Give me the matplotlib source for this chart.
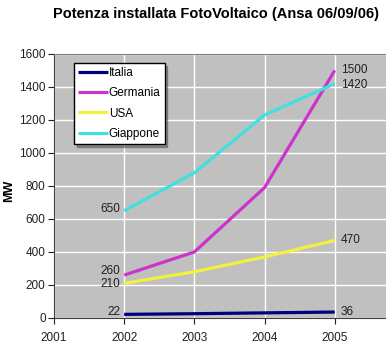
import matplotlib
matplotlib.use("Agg")
import matplotlib.pyplot as plt

# data (MW)
anni = [2002, 2003, 2004, 2005]
italia = [22, 26, 31, 36]
germania = [260, 400, 790, 1500]
usa = [210, 280, 370, 470]
giappone = [650, 880, 1230, 1420]

serie = ["Italia", "Germania", "USA", "Giappone"]
colori = ["#000080", "#CC33CC", "#F2F23C", "#40E0E0"]
valori = [italia, germania, usa, giappone]

plt.rcParams['font.family'] = ['Liberation Sans', 'DejaVu Sans']

fig = plt.figure(figsize=(3.86, 3.53), dpi=100)
ax = fig.add_axes([0.1399, 0.0992, 0.909, 0.7479])
ax.set_facecolor("#C0C0C0")

for nome, col, v in zip(serie, colori, valori):
    ax.plot(anni, v, color=col, lw=2.3, label=nome, solid_capstyle='butt')

# value labels at the first and last year
sx = [(650, 10), (260, 25), (210, -6), (22, 15)]  # (value, y-offset in MW)
for val, dy in sx:
    ax.text(anni[0] - 0.06, val + dy, str(val), ha='right', va='center', fontsize=8.5, color='#202020')
dx = [(1500, 0), (1420, -8), (470, 0), (36, 0)]
for val, dy in dx:
    ax.text(anni[-1] + 0.09, val + dy, str(val), ha='left', va='center', fontsize=8.5, color='#202020')

ax.set_xlim(2001, 2006)
ax.set_ylim(0, 1600)
ax.set_xticks([2001, 2002, 2003, 2004, 2005])
ax.set_yticks(range(0, 1601, 200))
ax.grid(True, color='white', lw=1)
ax.set_axisbelow(True)
ax.tick_params(axis='both', labelsize=8.5, colors='#202020', length=4, width=0.8)
ax.tick_params(axis='x', pad=6)
ax.tick_params(axis='y', pad=2)
for s in ['left', 'bottom']:
    ax.spines[s].set_color('#404040')
ax.spines['top'].set_color('#808080')
ax.spines['right'].set_visible(False)

ax.set_ylabel("MW", fontsize=9, fontweight='bold')
ax.yaxis.set_label_coords(-0.11, 0.48)

fig.text(0.56, 0.96, "Potenza installata FotoVoltaico (Ansa 06/09/06)",
         ha='center', va='center', fontsize=10.5, fontweight='bold')

leg = ax.legend(loc='upper left', bbox_to_anchor=(0.057, 0.966), borderaxespad=0,
                fontsize=8.5, frameon=True, fancybox=False, shadow=True,
                handlelength=2.5, handletextpad=0.1, labelspacing=0.7,
                borderpad=0.35)
leg.get_frame().set_edgecolor('black')
leg.get_frame().set_facecolor('white')
leg.get_frame().set_alpha(1)

fig.savefig("out.png", dpi=100)
